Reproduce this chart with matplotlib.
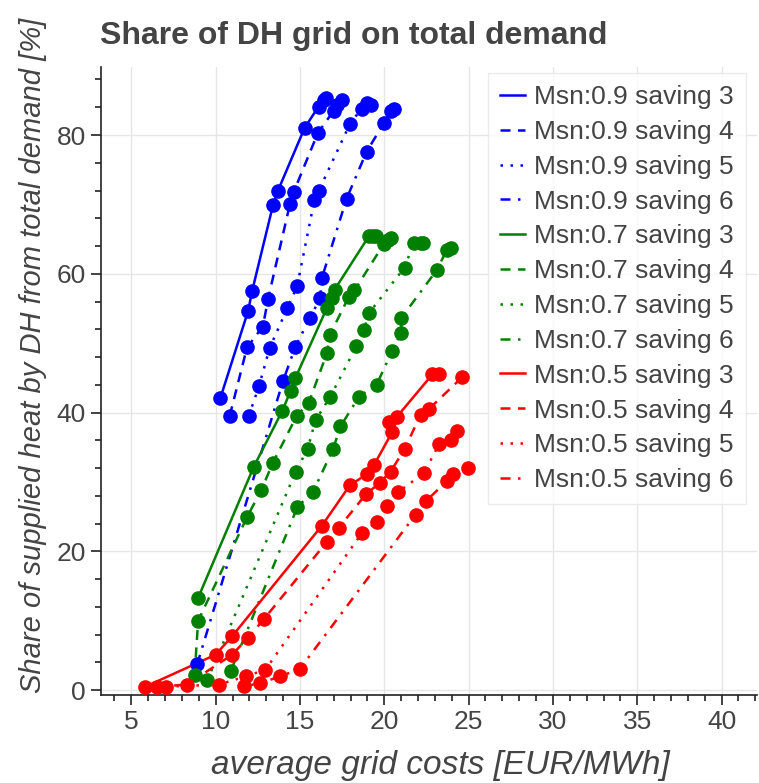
import matplotlib
matplotlib.use("Agg")
import matplotlib.pyplot as plt
from matplotlib.ticker import MultipleLocator

plt.rcParams["font.family"] = ["Liberation Sans", "DejaVu Sans"]

# Msn 0.9 curves, savings 3..6
msn09_x = [
    [10.28, 11.93, 12.16, 13.4, 13.68, 15.27, 16.1, 16.4, 16.57],
    [10.83, 11.86, 12.8, 13.1, 14.4, 14.63, 16.06, 17.0, 17.2, 17.5],
    [11.96, 12.58, 13.2, 14.24, 14.83, 15.86, 16.1, 17.96, 18.65, 18.95, 19.2],
    [8.9, 14.0, 14.73, 15.58, 16.2, 16.3, 17.76, 18.95, 19.97, 20.37, 20.57],
]
msn09_y = [
    [42.1, 54.7, 57.5, 69.9, 71.9, 81.0, 84.1, 85.1, 85.4],
    [39.5, 49.4, 52.4, 56.3, 70.0, 71.8, 80.3, 83.5, 84.3, 85.0],
    [39.5, 43.9, 49.3, 55.0, 58.2, 70.7, 71.9, 81.6, 83.8, 84.6, 84.3],
    [3.7, 44.6, 49.5, 53.6, 56.5, 59.4, 70.8, 77.6, 81.7, 83.4, 83.8],
]

# Msn 0.7 curves
msn07_x = [
    [8.96, 12.26, 13.94, 14.44, 14.73, 16.6, 16.9, 17.05, 19.08, 19.3, 19.5],
    [8.75, 8.96, 11.87, 12.7, 13.4, 14.8, 15.52, 16.6, 16.77, 17.9, 18.23, 19.97, 20.2, 20.4],
    [9.5, 14.75, 15.46, 15.92, 16.8, 18.35, 18.8, 19.08, 21.2, 21.75, 22.15, 22.3],
    [10.9, 14.85, 15.78, 16.97, 17.4, 18.5, 19.54, 20.47, 21.0, 21.0, 23.1, 23.7, 23.97],
]
msn07_y = [
    [13.3, 32.2, 40.2, 43.1, 45.0, 55.1, 56.5, 57.7, 65.4, 65.5, 65.4],
    [2.2, 10.0, 25.0, 28.8, 32.8, 39.5, 41.4, 48.6, 51.2, 56.7, 57.6, 64.3, 64.9, 65.2],
    [1.4, 31.5, 34.8, 38.9, 42.3, 49.6, 51.9, 54.3, 60.9, 64.5, 64.5, 64.4],
    [2.8, 26.4, 28.6, 34.8, 38.0, 42.3, 44.0, 48.9, 51.5, 53.6, 60.5, 63.4, 63.7],
]

# Msn 0.5 curves
msn05_x = [
    [5.83, 9.99, 10.97, 16.3, 17.95, 18.95, 19.38, 20.47, 20.3, 20.75, 22.85, 23.24],
    [6.5, 8.3, 10.97, 11.9, 12.85, 16.6, 17.3, 18.9, 19.74, 20.37, 21.2, 22.15, 22.64, 24.62],
    [7.08, 10.18, 11.8, 12.95, 18.69, 19.58, 20.17, 20.8, 22.35, 23.24, 23.97, 24.3],
    [11.67, 12.65, 13.84, 14.99, 21.85, 22.45, 23.7, 24.1, 24.96],
]
msn05_y = [
    [0.5, 5.1, 7.75, 23.7, 29.5, 31.1, 32.4, 37.2, 38.6, 39.4, 45.5, 45.6],
    [0.5, 0.8, 5.1, 7.5, 10.2, 21.4, 23.4, 28.2, 29.9, 31.5, 34.7, 39.7, 40.5, 45.1],
    [0.5, 0.8, 2.0, 2.95, 22.7, 24.3, 26.5, 28.5, 31.3, 35.4, 36.1, 37.3],
    [0.55, 1.0, 2.0, 3.05, 25.3, 27.2, 30.1, 31.1, 32.0],
]

savings = [3, 4, 5, 6]
groups = [("0.9", "blue", msn09_x, msn09_y),
          ("0.7", "green", msn07_x, msn07_y),
          ("0.5", "red", msn05_x, msn05_y)]
dash_styles = ["-", (0, (4, 3)), (0, (1, 3)), (0, (4, 3, 1, 3))]

text_col = "#444444"

fig = plt.figure(figsize=(7.59, 7.83), dpi=100)
ax = fig.add_axes([101 / 759, 88 / 783, 656 / 759, 628 / 783])

for msn, color, xs, ys in groups:
    for saving, ls, x, y in zip(savings, dash_styles, xs, ys):
        ax.plot(x, y, color=color, linestyle=ls, linewidth=1.8,
                label=f"Msn:{msn} saving {saving}")
        ax.plot(x, y, "o", color=color, markersize=9.5, zorder=3)

ax.set_xlim(3.2, 42.1)
ax.set_ylim(-0.7, 89.8)
ax.xaxis.set_major_locator(MultipleLocator(5))
ax.xaxis.set_minor_locator(MultipleLocator(1))
ax.yaxis.set_major_locator(MultipleLocator(20))
ax.yaxis.set_minor_locator(MultipleLocator(4))
ax.grid(True, which="major", color="#e6e6e6", linewidth=1)
ax.set_axisbelow(True)

for side in ("top", "right"):
    ax.spines[side].set_visible(False)
for side in ("left", "bottom"):
    ax.spines[side].set_color("#222222")
    ax.spines[side].set_linewidth(1.2)

ax.tick_params(which="major", length=7, width=1.2, color="#222222",
               labelsize=19, labelcolor=text_col, pad=4)
ax.tick_params(which="minor", length=4, width=1.2, color="#222222")

ax.set_xlabel("average grid costs [EUR/MWh]", fontsize=24, style="italic",
              color=text_col)
ax.xaxis.set_label_coords(0.518, -0.088)
ax.set_ylabel("Share of supplied heat by DH from total demand [%]", fontsize=21,
              style="italic", color=text_col)
ax.yaxis.set_label_coords(-0.082, 0.541)
fig.text(100 / 759, 1 - 36 / 783, "Share of DH grid on total demand",
         fontsize=23, fontweight="bold", color=text_col, va="center", ha="left")

leg = ax.legend(loc="upper right", fontsize=19, frameon=True, fancybox=False,
                handlelength=0.95, handletextpad=0.34, labelspacing=0.41,
                borderpad=0.45, borderaxespad=0, bbox_to_anchor=(0.983, 0.99))
leg.get_frame().set_edgecolor("#e6e6e6")
leg.get_frame().set_linewidth(1)
for t in leg.get_texts():
    t.set_color(text_col)

fig.savefig("out.png", dpi=100)
